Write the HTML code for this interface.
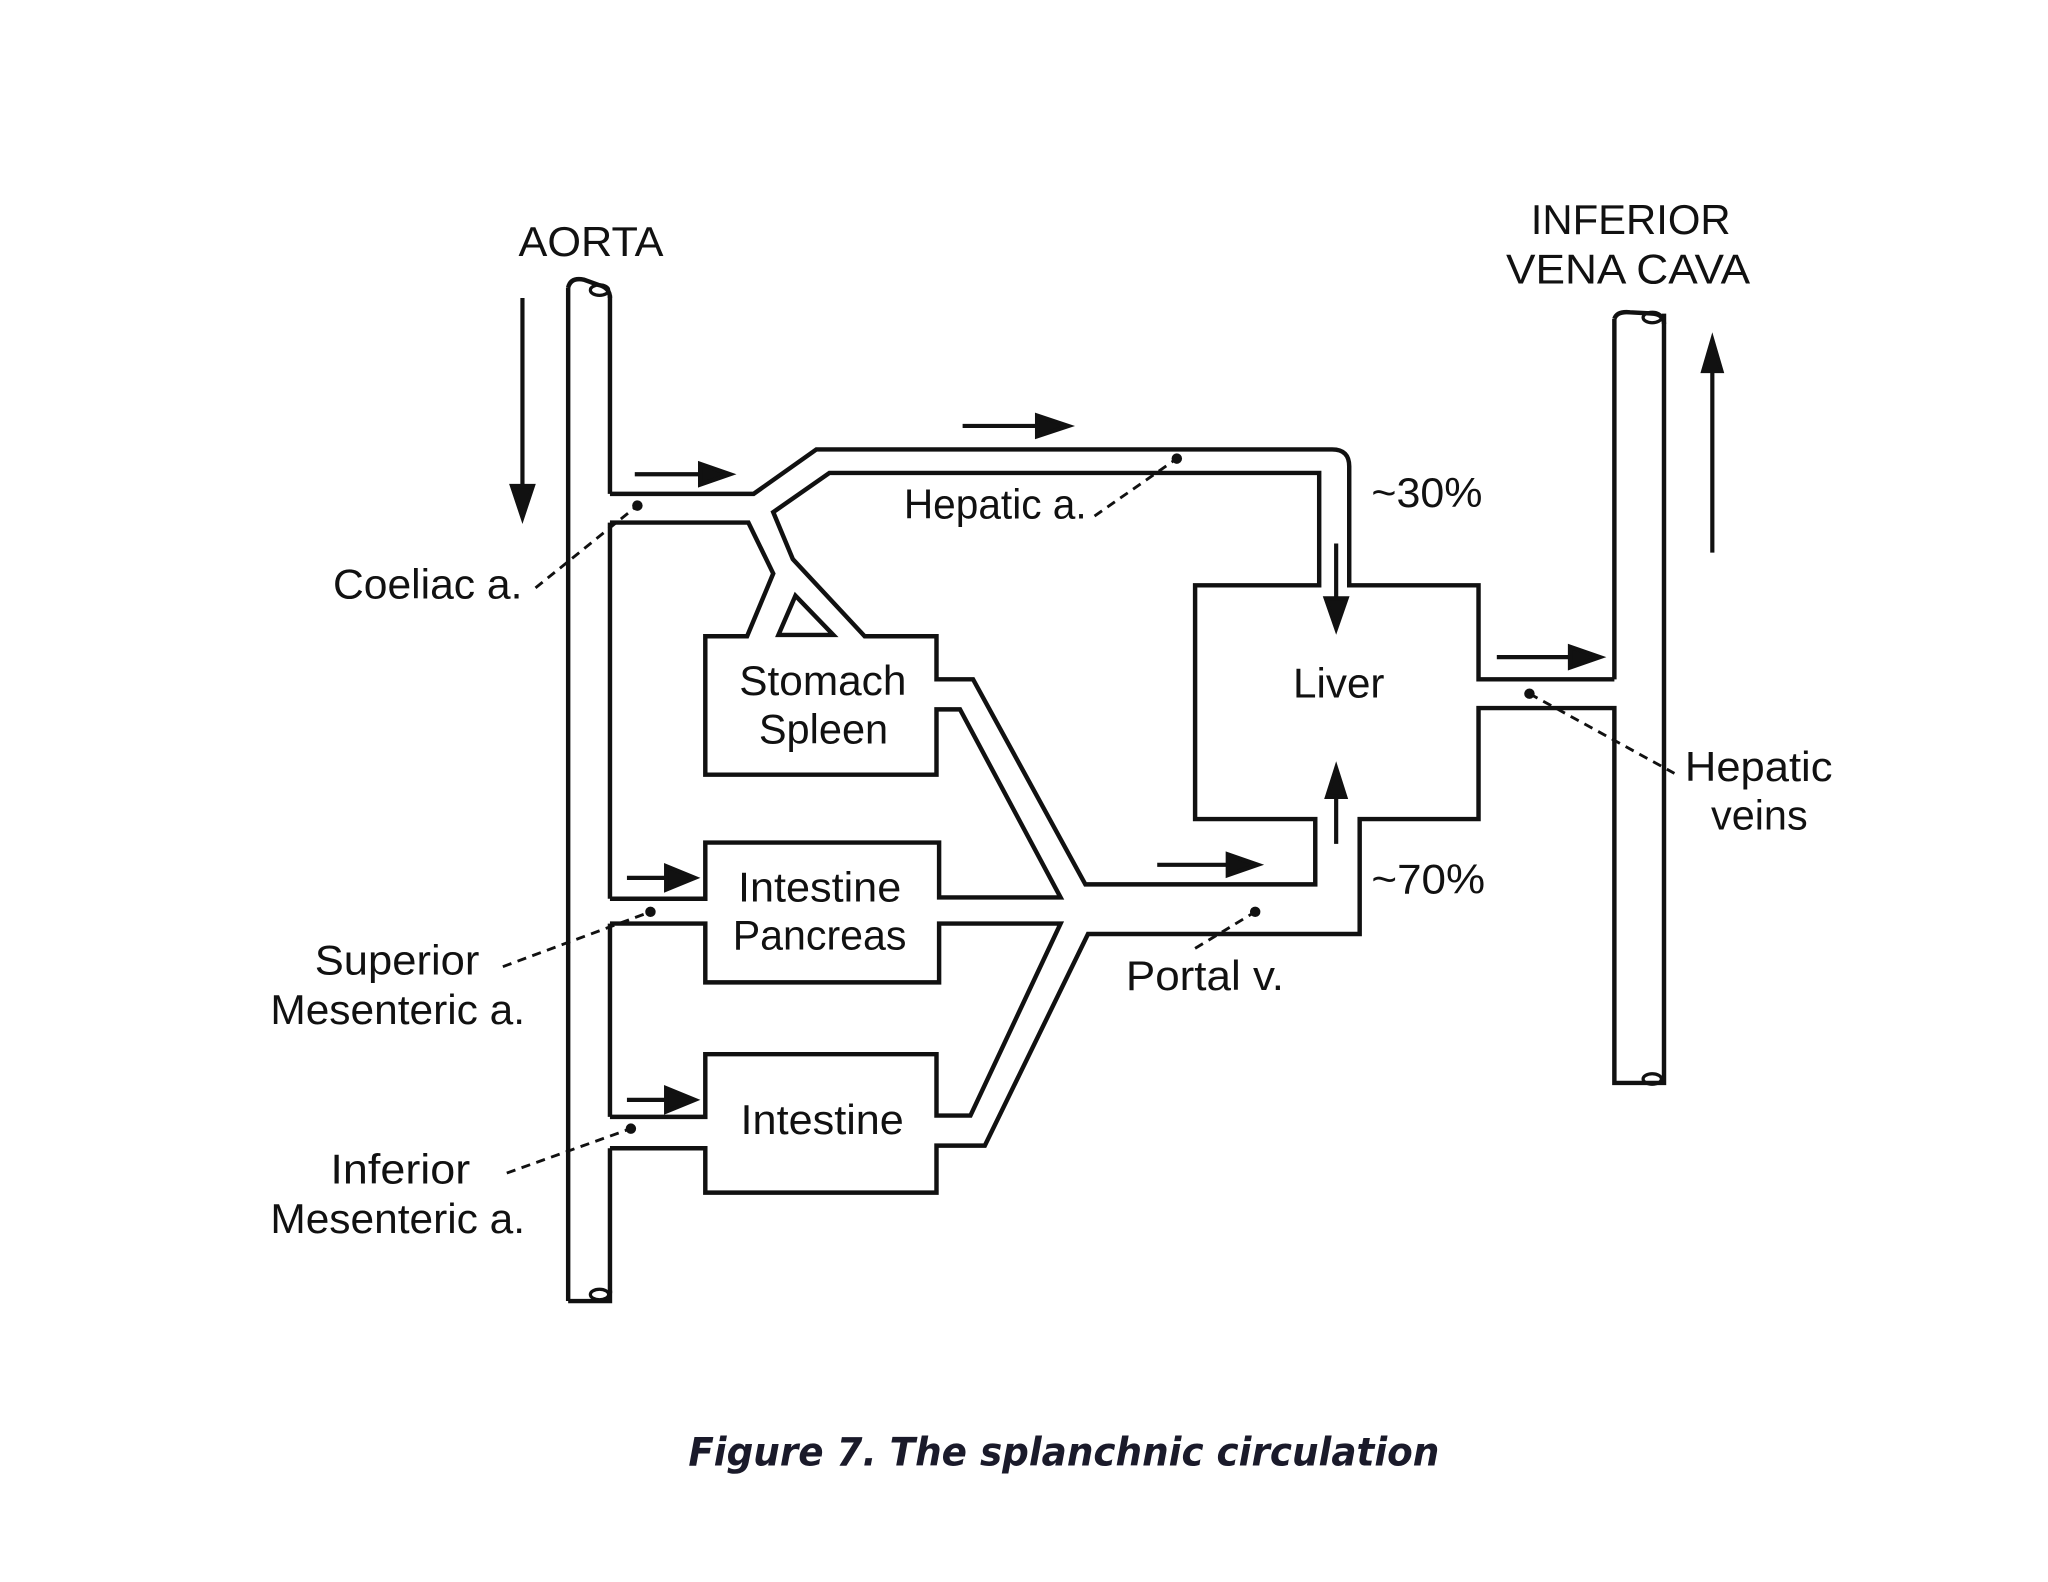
<!DOCTYPE html>
<html><head><meta charset="utf-8"><style>
html,body{margin:0;padding:0;background:#fff;}
svg{display:block;}
text{font-family:"Liberation Sans",Arial,sans-serif;fill:#111;}
</style></head><body>
<svg width="2048" height="1582" viewBox="0 0 1568 1211" xmlns="http://www.w3.org/2000/svg">
<g fill="none" stroke="#111" stroke-width="3.4" stroke-linejoin="miter">
<line x1="435" y1="220" x2="435" y2="996"/>
<line x1="467" y1="226" x2="467" y2="378"/>
<line x1="467" y1="400" x2="467" y2="688"/>
<line x1="467" y1="707" x2="467" y2="855"/>
<line x1="467" y1="879" x2="467" y2="990"/>
<path d="M435,220 Q437,212 447,214 L458,218 Q467,220 467,228"/>
<ellipse cx="459" cy="222" rx="7" ry="4" stroke-width="2.5"/>
<path d="M435,996 L467,996 L467,988"/>
<ellipse cx="459" cy="991" rx="7" ry="4" stroke-width="2.5"/>
<path d="M467,378 L577,378 L625,344 L1020,344 Q1033,344 1033,357 L1033,448 L1132,448 L1132,520 L1236,520"/>
<path d="M1010,362 L1010,448 L915,448 L915,627 L1007,627 L1007,677 L831,677 L745,520 L717,520 L717,487 L662,487 L607,428 L592,392 L635,362 Z"/>
<path d="M467,400 L573,400 L592,439 L572,487 L540,487 L540,593 L717,593 L717,543 L735,543 L812,687 L719,687 L719,645 L540,645 L540,688 L467,688"/>
<path d="M467,707 L540,707 L540,752 L719,752 L719,707 L812,707 L743,854 L717,854 L717,807 L540,807 L540,855 L467,855"/>
<path d="M467,879 L540,879 L540,913 L717,913 L717,877 L754,877 L833,715 L1041,715 L1041,627 L1132,627 L1132,542 L1236,542 L1236,829 L1274,829 L1274,240"/>
<polygon points="596,486 609,456 638,486"/>
<line x1="1236" y1="244" x2="1236" y2="520"/>
<path d="M1236,244 Q1238,238 1248,239 L1266,240 Q1274,241 1274,248"/>
<ellipse cx="1265" cy="243" rx="7" ry="4" stroke-width="2.5"/>
<ellipse cx="1265" cy="826" rx="7" ry="4" stroke-width="2.5"/>
</g>
<g stroke="#111" stroke-width="3.2" fill="#111">
<line x1="400" y1="228" x2="400" y2="375"/><polygon points="392,372 408,372 400,396"/>
<line x1="486" y1="363" x2="540" y2="363"/><polygon points="536,355 536,371 559,363"/>
<line x1="737" y1="326" x2="798" y2="326"/><polygon points="794,318 794,334 818,326"/>
<line x1="1023" y1="416" x2="1023" y2="462"/><polygon points="1015,458 1031,458 1023,481"/>
<line x1="1023" y1="646" x2="1023" y2="608"/><polygon points="1016,610 1030,610 1023,588"/>
<line x1="1146" y1="503" x2="1206" y2="503"/><polygon points="1202,495 1202,511 1225,503"/>
<line x1="1311" y1="423" x2="1311" y2="282"/><polygon points="1304,284 1318,284 1311,260"/>
<line x1="480" y1="672" x2="512" y2="672"/><polygon points="510,663 510,681 532,672"/>
<line x1="480" y1="842" x2="512" y2="842"/><polygon points="510,833 510,851 532,842"/>
<line x1="886" y1="662" x2="943" y2="662"/><polygon points="940,654 940,670 963,662"/>
</g>
<g stroke="#111" stroke-width="2.2" stroke-dasharray="7,5" fill="none">
<line x1="410" y1="450" x2="488" y2="387"/>
<line x1="838" y1="395" x2="901" y2="351"/>
<line x1="385" y1="740" x2="498" y2="698"/>
<line x1="388" y1="898" x2="483" y2="864"/>
<line x1="915" y1="726" x2="961" y2="698"/>
<line x1="1171" y1="531" x2="1282" y2="592"/>
</g>
<g fill="#111">
<circle cx="488" cy="387" r="4"/><circle cx="901" cy="351" r="4"/><circle cx="498" cy="698" r="4"/>
<circle cx="483" cy="864" r="4"/><circle cx="961" cy="698" r="4"/><circle cx="1171" cy="531" r="4"/>
</g>
<g font-size="32">
<text x="397" y="196" textLength="111" lengthAdjust="spacingAndGlyphs">AORTA</text>
<text x="1172" y="179" textLength="153" lengthAdjust="spacingAndGlyphs">INFERIOR</text>
<text x="1153" y="217" textLength="187" lengthAdjust="spacingAndGlyphs">VENA CAVA</text>
<text x="255" y="458" textLength="145" lengthAdjust="spacingAndGlyphs">Coeliac a.</text>
<text x="692" y="397" textLength="140" lengthAdjust="spacingAndGlyphs">Hepatic a.</text>
<text x="566" y="532" textLength="128" lengthAdjust="spacingAndGlyphs">Stomach</text>
<text x="581" y="569" textLength="99" lengthAdjust="spacingAndGlyphs">Spleen</text>
<text x="990" y="534" textLength="70" lengthAdjust="spacingAndGlyphs">Liver</text>
<text x="565" y="690" textLength="125" lengthAdjust="spacingAndGlyphs">Intestine</text>
<text x="561" y="727" textLength="133" lengthAdjust="spacingAndGlyphs">Pancreas</text>
<text x="567" y="868" textLength="125" lengthAdjust="spacingAndGlyphs">Intestine</text>
<text x="241" y="746" textLength="126" lengthAdjust="spacingAndGlyphs">Superior</text>
<text x="207" y="784" textLength="195" lengthAdjust="spacingAndGlyphs">Mesenteric a.</text>
<text x="253" y="906" textLength="107" lengthAdjust="spacingAndGlyphs">Inferior</text>
<text x="207" y="944" textLength="195" lengthAdjust="spacingAndGlyphs">Mesenteric a.</text>
<text x="862" y="758" textLength="121" lengthAdjust="spacingAndGlyphs">Portal v.</text>
<text x="1050" y="388" textLength="85" lengthAdjust="spacingAndGlyphs">~30%</text>
<text x="1050" y="684" textLength="87" lengthAdjust="spacingAndGlyphs">~70%</text>
<text x="1290" y="598" textLength="113" lengthAdjust="spacingAndGlyphs">Hepatic</text>
<text x="1310" y="635" textLength="74" lengthAdjust="spacingAndGlyphs">veins</text>
</g>
<text x="527" y="1122" font-size="30" font-weight="bold" font-style="italic" textLength="575" lengthAdjust="spacingAndGlyphs" style="font-family:'DejaVu Sans','Liberation Sans',sans-serif;fill:#1a1a2a">Figure 7. The splanchnic circulation</text>
</svg>
</body></html>
